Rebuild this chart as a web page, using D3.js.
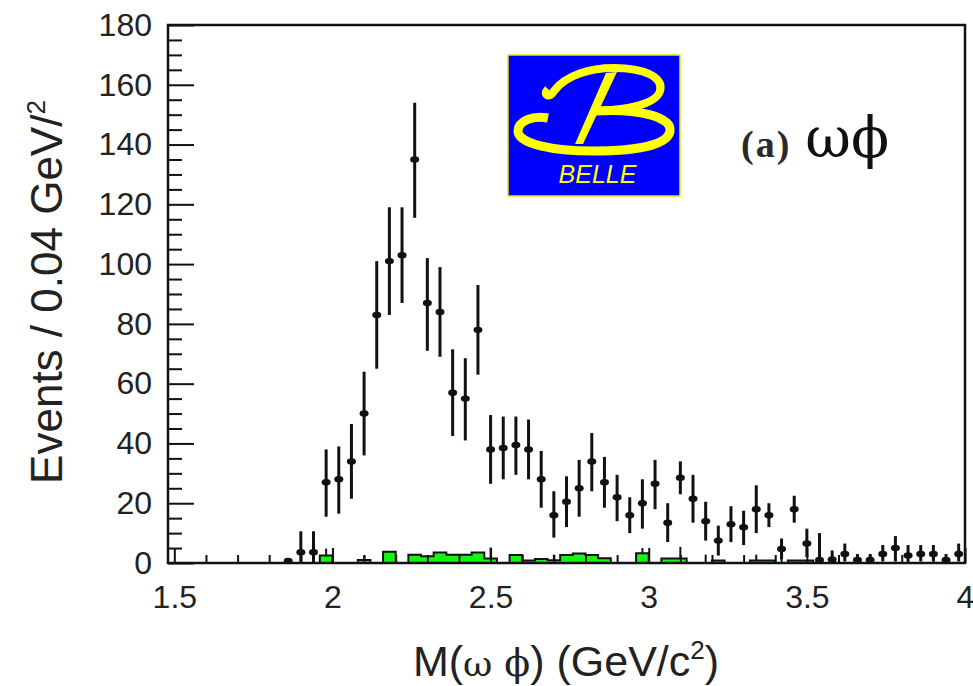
<!DOCTYPE html>
<html>
<head>
<meta charset="utf-8">
<script src="https://cdn.jsdelivr.net/npm/d3@7"></script>
<style>
  body { margin: 0; background: #fff; }
  svg { display: block; }
</style>
</head>
<body>
<script>
// bin centres (GeV/c^2), 0.04 wide bins
var mass = [1.86,1.90,1.94,1.98,2.02,2.06,2.10,2.14,2.18,2.22,2.26,2.30,2.34,2.38,2.42,2.46,2.50,2.54,
            2.58,2.62,2.66,2.70,2.74,2.78,2.82,2.86,2.90,2.94,2.98,3.02,3.06,3.10,3.14,3.18,3.22,3.26,
            3.30,3.34,3.38,3.42,3.46,3.50,3.54,3.58,3.62,3.66,3.70,3.74,3.78,3.82,3.86,3.90,3.94,3.98];
var events = [0.7,3.6,3.6,27,28,34,50,83,101,103,135,87,84,57,55,78,38,38.5,
              39.5,38,28,16,20.5,25,34,27,22,16,20,26.5,13.5,28.5,21.5,14,7.5,13,
              12,18,16,4.7,18,6.5,1,1.2,3,1,1,3,5,2.5,3,3,1,3];
var errLo = [0.7,3.6,3.6,11.5,11.5,12.5,14,18,18,16,19.5,16,15,14.5,14,15,11.5,10.5,
             10,10,9.5,7.5,8.5,9.5,10,8.5,8,6,8.5,8.5,6.5,5.5,8,6.5,5,6,
             6,8,4,3.5,4.5,4.5,1,1.2,2.5,1,1,2.5,4.5,2.5,2.5,2.5,1,2.5];
var errHi = [0.7,7,7,11,11,12.5,14,18,18,16,19,15,15,14.5,13.5,15,11.5,10.5,
             9.5,10,9.5,8,8.5,9.5,9.5,8.5,7.5,6,8,8,6.5,5.5,8,6.5,5,6,
             5.5,8,4,3.5,4.5,5,9,3,3.5,2,2,3,4,3.5,3,3,2,3.5];
// background (green histogram) per bin, and its small upward error stubs
var bkg = [0,0,0,2.5,0,0,1,0,3.8,0,2.8,2.3,3.5,2.8,2.8,3.5,1.5,0,
           2.7,0.8,1.3,0.9,2.7,3.2,2.7,1.6,0,0,3.3,0,1.5,1.5,0,0,0.8,0,
           0,0.8,0.8,0,0.8,0.8,0,0,0,0,0,0,0,0,0,0,0,0];
var bkgErr = [0,0,0,2.3,0,0,1.5,0,0,0,0,0,0,0,0,0,3.7,0,
              0,0,0,1.9,0,0,0,0,0,0,1.7,0,0,3.9,0,2.8,0,0,
              0,2,0,2.8,0,0,0,0,0,0,0,0,0,0,0,0,0,0];
var xTicks = [1.5, 2, 2.5, 3, 3.5, 4];
var xMinor = [1.6,1.7,1.8,1.9,2.1,2.2,2.3,2.4,2.6,2.7,2.8,2.9,3.1,3.2,3.3,3.4,3.6,3.7,3.8,3.9];
var yTicks = [0, 20, 40, 60, 80, 100, 120, 140, 160, 180];
var yMinor = [5,10,15,25,30,35,45,50,55,65,70,75,85,90,95,105,110,115,125,130,135,145,150,155,165,170,175];

var W = 973, H = 686,
    margin = { top: 25, right: 8, bottom: 123, left: 168 },
    width = W - margin.left - margin.right,
    height = H - margin.top - margin.bottom,
    halfBin = 0.02;

var svg = d3.select("body").append("svg").attr("width", W).attr("height", H);
var g = svg.append("g").attr("transform", "translate(" + margin.left + "," + margin.top + ")");

var x = d3.scaleLinear().domain([1.48, 4.0]).range([0, width]),
    y = d3.scaleLinear().domain([0, 180]).range([height, 0]);

// green background histogram
var steps = [];
mass.forEach(function(m, i) { steps.push([m - halfBin, bkg[i]], [m + halfBin, bkg[i]]); });
g.append("path")
    .attr("d", d3.area().x(d => x(d[0])).y0(y(0)).y1(d => y(d[1]))(steps))
    .attr("fill", "#14f514");
g.append("path")
    .attr("d", d3.line().x(d => x(d[0])).y(d => y(d[1]))(steps))
    .attr("fill", "none").attr("stroke", "#111").attr("stroke-width", 2);
g.selectAll(".bkgerr")
    .data(mass.map((m, i) => ({ m: m, v: bkg[i], e: bkgErr[i] })).filter(d => d.e > 0))
    .enter().append("line")
      .attr("x1", d => x(d.m)).attr("x2", d => x(d.m))
      .attr("y1", d => y(d.v)).attr("y2", d => y(d.v + d.e))
      .attr("stroke", "#111").attr("stroke-width", 2);

// data points with error bars
var pts = mass.map((m, i) => ({ m: m, v: events[i], lo: errLo[i], hi: errHi[i] }));
g.selectAll(".err")
    .data(pts).enter().append("line")
      .attr("x1", d => x(d.m)).attr("x2", d => x(d.m))
      .attr("y1", d => y(Math.max(0, d.v - d.lo))).attr("y2", d => y(d.v + d.hi))
      .attr("stroke", "#111").attr("stroke-width", 3);
g.selectAll(".pt")
    .data(pts).enter().append("ellipse")
      .attr("cx", d => x(d.m)).attr("cy", d => y(d.v))
      .attr("rx", 4.5).attr("ry", 3.2)
      .attr("fill", "#111");

// Belle logo
var logo = g.append("g").attr("transform", "translate(" + (508 - margin.left) + "," + (55 - margin.top) + ")");
logo.append("rect").attr("width", 172).attr("height", 141)
    .attr("fill", "#0000ff").attr("stroke", "#e8e800").attr("stroke-width", 1.5);
logo.append("path")
    .attr("d", "M 40 34 C 34 40, 42 44, 46 36 C 58 20, 82 13, 106 13 C 136 13, 156 22, 152 36 C 148 49, 120 55, 86 56")
    .attr("fill", "none").attr("stroke", "#ffff00").attr("stroke-width", 8);
logo.append("path")
    .attr("d", "M 86 56 C 130 53, 164 62, 162 76 C 160 91, 125 96, 85 96 C 45 96, 10 89, 10 76 C 10 66, 25 60, 40 63")
    .attr("fill", "none").attr("stroke", "#ffff00").attr("stroke-width", 9);
logo.append("path")
    .attr("d", "M 98 18 L 109 17 L 75 89 L 67 89 Z")
    .attr("fill", "#ffff00");
logo.append("text").attr("x", 89.5).attr("y", 128)
    .attr("text-anchor", "middle")
    .style("font-family", "'Liberation Sans', Arial, sans-serif")
    .style("font-style", "italic").style("font-size", "25px")
    .attr("fill", "#ffff00").text("BELLE");

// panel label
var lab = svg.append("text").attr("x", 741).attr("y", 157);
lab.append("tspan").text("(a)")
    .style("font-family", "'Liberation Serif', 'DejaVu Serif', serif")
    .style("font-weight", "bold").style("font-size", "38px").style("letter-spacing", "2px").attr("fill", "#2a2a2a");
lab.append("tspan").attr("dx", 14).text("ωϕ")
    .style("font-family", "'DejaVu Serif', serif").style("font-size", "56px").attr("fill", "#111");

// frame
g.append("rect").attr("width", width).attr("height", height)
    .attr("fill", "none").attr("stroke", "#111").attr("stroke-width", 2.5);

// axes (ticks point inwards)
var fontTick = "'Liberation Sans', Arial, Helvetica, sans-serif";
var xAxis = g.append("g").attr("transform", "translate(0," + height + ")")
    .call(d3.axisBottom(x).tickValues(xTicks).tickSize(-15).tickPadding(0).tickFormat(d3.format("")));
var xAxisMinor = g.append("g").attr("transform", "translate(0," + height + ")")
    .call(d3.axisBottom(x).tickValues(xMinor).tickSize(-8).tickFormat(""));
var yAxis = g.append("g")
    .call(d3.axisLeft(y).tickValues(yTicks).tickSize(-26).tickPadding(16));
var yAxisMinor = g.append("g")
    .call(d3.axisLeft(y).tickValues(yMinor).tickSize(-14).tickFormat(""));

[xAxis, xAxisMinor, yAxis, yAxisMinor].forEach(function(a) {
  a.select(".domain").remove();
  a.selectAll(".tick line").attr("stroke", "#111").attr("stroke-width", 2);
  a.selectAll("text").style("font-family", fontTick).style("font-size", "32px").attr("fill", "#222");
});
xAxis.selectAll("text").attr("y", 45).attr("dy", null);

// axis titles
var fontTitle = "'Liberation Sans', Arial, Helvetica, sans-serif";
var xt = svg.append("text").attr("x", 566).attr("y", 676).attr("text-anchor", "middle")
    .style("font-family", fontTitle).style("font-size", "43px").attr("fill", "#222");
xt.append("tspan").text("M(");
xt.append("tspan").text("ω").style("font-family", "'DejaVu Serif', serif").style("font-size", "36px");
xt.append("tspan").text(" ");
xt.append("tspan").text("ϕ").style("font-family", "'DejaVu Serif', serif").style("font-size", "38px");
xt.append("tspan").text(") (GeV/c");
xt.append("tspan").text("2").style("font-size", "26px").attr("dy", -17);
xt.append("tspan").text(")").attr("dy", 17);

var yt = svg.append("text").attr("transform", "translate(62,292) rotate(-90)").attr("text-anchor", "middle")
    .style("font-family", fontTitle).style("font-size", "44px").attr("fill", "#222");
yt.append("tspan").text("Events / 0.04 GeV/");
yt.append("tspan").text("2").style("font-size", "26px").attr("dy", -17);
</script>
</body>
</html>
